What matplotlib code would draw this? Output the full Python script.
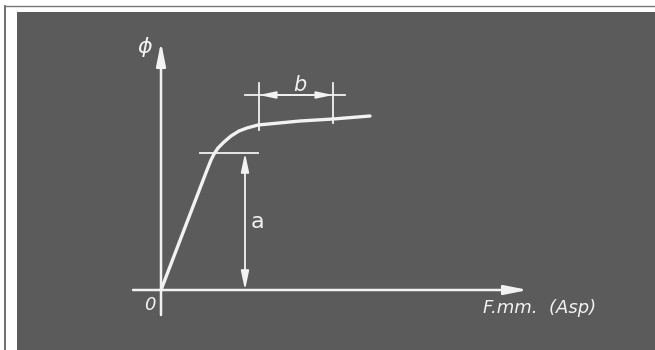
import matplotlib
matplotlib.use("Agg")
import matplotlib.pyplot as plt
from matplotlib.patches import Rectangle
from matplotlib.lines import Line2D

# ---- data (chart units: F.m.m. horizontally, flux vertically) ----
curve_F = [0, 4.6, 5.0, 5.3, 5.7, 6.3, 7.0, 7.8, 8.6, 9.7, 13.9, 17.2, 20.9]
curve_phi = [0, 12.0, 13.0, 13.6, 14.2, 14.8, 15.4, 15.9, 16.2, 16.5, 16.9, 17.1, 17.4]

axis_F_range = [-2.8, 36.7]
axis_phi_range = [-2.5, 24.8]

a_level = 13.7          # height of dimension "a"
a_x = 8.4               # position of the "a" arrow
a_line_F = [3.9, 9.7]   # extent of horizontal reference line for "a"

b_start = 9.8           # start of saturation zone "b"
b_end = 17.2            # end of zone "b"
b_tick_bottom = [16.0, 16.7]
b_tick_top = 20.7
b_level = 19.5
b_line_F = [8.4, 18.4]

labels = {"phi": "ϕ", "origin": "0", "a": "a", "b": "b", "x": "F.mm.  (Asp)"}

# ---- figure ----
W, H = 655, 350
fig = plt.figure(figsize=(W / 100, H / 100), dpi=100)
fig.patch.set_facecolor("white")

bg = "#5b5b5b"
fg = "#f2f2f2"

ax = fig.add_axes([0, 0, 1, 1])
ax.set_facecolor("none")
ax.set_xlim(-16.1, 49.4)
ax.set_ylim(-6.0, 29.0)
ax.axis("off")

# background panel and scan frame (figure fraction)
ax.add_patch(Rectangle((17 / W, 0), 1 - 17 / W, 1 - 12 / H,
                       transform=fig.transFigure, facecolor=bg,
                       edgecolor="none", zorder=0))
ax.add_line(Line2D([5 / W, 5 / W], [0, 1 - 6 / H], transform=fig.transFigure,
                   color="#555555", lw=1.2, zorder=0))
ax.add_line(Line2D([5 / W, 1], [1 - 6 / H, 1 - 6 / H], transform=fig.transFigure,
                   color="#777777", lw=1.0, zorder=0))

head_axis = "-|>,head_length=1.0,head_width=0.2"
head_dim = "<|-|>,head_length=0.8,head_width=0.17"

# axes
ax.annotate("", xy=(0, axis_phi_range[1]), xytext=(0, axis_phi_range[0]),
            arrowprops=dict(arrowstyle=head_axis, color=fg, lw=1.8,
                            mutation_scale=14, shrinkA=0, shrinkB=0))
ax.annotate("", xy=(axis_F_range[1], 0), xytext=(axis_F_range[0], 0),
            arrowprops=dict(arrowstyle=head_axis, color=fg, lw=1.8,
                            mutation_scale=14, shrinkA=0, shrinkB=0))

# magnetisation curve
ax.plot(curve_F, curve_phi, color=fg, lw=2.4, solid_joinstyle="round",
        solid_capstyle="round", zorder=3)

# dimension a
ax.plot(a_line_F, [a_level, a_level], color=fg, lw=1.3)
ax.annotate("", xy=(a_x, a_level), xytext=(a_x, 0),
            arrowprops=dict(arrowstyle=head_dim, color=fg, lw=1.3,
                            mutation_scale=14, shrinkA=0, shrinkB=0))

# dimension b
ax.plot([b_start, b_start], [b_tick_bottom[0], b_tick_top], color=fg, lw=1.3)
ax.plot([b_end, b_end], [b_tick_bottom[1], b_tick_top], color=fg, lw=1.3)
ax.plot(b_line_F, [b_level, b_level], color=fg, lw=1.3)
ax.annotate("", xy=(b_start, b_level), xytext=(b_end, b_level),
            arrowprops=dict(arrowstyle=head_dim, color=fg, lw=1.3,
                            mutation_scale=12, shrinkA=0, shrinkB=0))

# labels
ax.text(-1.6, 24.3, labels["phi"], color=fg, fontsize=16, style="italic",
        ha="center", va="center")
ax.text(-1.1, -1.5, labels["origin"], color=fg, fontsize=13, style="italic",
        ha="center", va="center")
ax.text(9.6, 6.8, labels["a"], color=fg, fontsize=16, ha="center", va="center")
ax.text(13.9, 20.5, labels["b"], color=fg, fontsize=15, style="italic",
        ha="center", va="center")
ax.text(37.9, -1.8, labels["x"], color=fg, fontsize=13, style="italic",
        ha="center", va="center")

fig.savefig("out.png", dpi=100, facecolor=fig.get_facecolor())
